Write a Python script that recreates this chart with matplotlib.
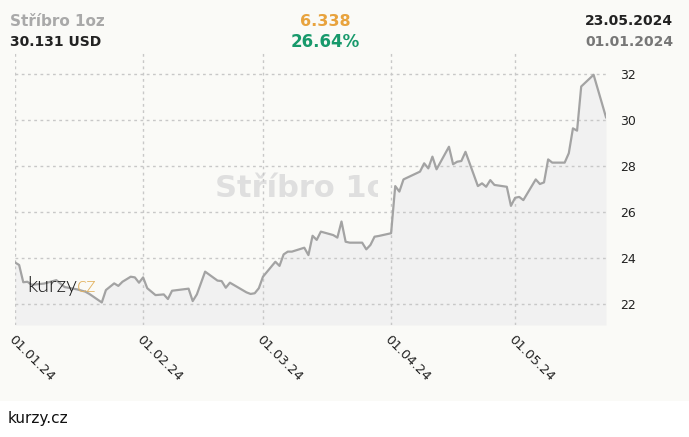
import numpy as np
import matplotlib
matplotlib.use("Agg")
import matplotlib.pyplot as plt
import matplotlib.dates as mdates
import matplotlib.patches as mpatches

# price of silver (USD / 1oz)
dates = ["2024-01-01", "2024-01-02", "2024-01-03", "2024-01-04", "2024-01-05",
         "2024-01-08", "2024-01-11", "2024-01-13", "2024-01-16", "2024-01-18",
         "2024-01-19", "2024-01-22", "2024-01-23", "2024-01-25", "2024-01-26",
         "2024-01-27", "2024-01-29", "2024-01-30", "2024-01-31", "2024-02-01",
         "2024-02-02", "2024-02-04", "2024-02-06", "2024-02-07", "2024-02-08",
         "2024-02-12", "2024-02-13", "2024-02-14", "2024-02-16", "2024-02-19",
         "2024-02-20", "2024-02-21", "2024-02-22", "2024-02-26", "2024-02-27",
         "2024-02-28", "2024-02-29", "2024-03-01", "2024-03-04", "2024-03-05",
         "2024-03-06", "2024-03-07", "2024-03-08", "2024-03-11", "2024-03-12",
         "2024-03-13", "2024-03-14", "2024-03-15", "2024-03-18", "2024-03-19",
         "2024-03-20", "2024-03-21", "2024-03-22", "2024-03-25", "2024-03-26",
         "2024-03-27", "2024-03-28", "2024-03-29", "2024-04-01", "2024-04-02",
         "2024-04-03", "2024-04-04", "2024-04-08", "2024-04-09", "2024-04-10",
         "2024-04-11", "2024-04-12", "2024-04-15", "2024-04-16", "2024-04-17",
         "2024-04-18", "2024-04-19", "2024-04-22", "2024-04-23", "2024-04-24",
         "2024-04-25", "2024-04-26", "2024-04-29", "2024-04-30", "2024-05-01",
         "2024-05-02", "2024-05-03", "2024-05-06", "2024-05-07", "2024-05-08",
         "2024-05-09", "2024-05-10", "2024-05-13", "2024-05-14", "2024-05-15",
         "2024-05-16", "2024-05-17", "2024-05-20", "2024-05-22", "2024-05-23"]
prices = [23.82, 23.71, 22.96, 22.98, 22.85,
          22.90, 23.05, 22.75, 22.65, 22.55,
          22.45, 22.08, 22.62, 22.91, 22.80,
          22.98, 23.20, 23.17, 22.94, 23.17,
          22.70, 22.40, 22.43, 22.23, 22.59,
          22.68, 22.14, 22.43, 23.42, 23.03,
          23.01, 22.72, 22.94, 22.52, 22.45,
          22.48, 22.70, 23.20, 23.85, 23.67,
          24.17, 24.29, 24.29, 24.46, 24.14,
          24.98, 24.80, 25.16, 25.01, 24.90,
          25.60, 24.72, 24.68, 24.68, 24.39,
          24.58, 24.94, 24.97, 25.09, 27.14,
          26.90, 27.43, 27.77, 28.13, 27.91,
          28.42, 27.87, 28.85, 28.09, 28.20,
          28.23, 28.63, 27.14, 27.26, 27.11,
          27.40, 27.19, 27.11, 26.28, 26.63,
          26.67, 26.53, 27.43, 27.23, 27.30,
          28.30, 28.16, 28.16, 28.57, 29.65,
          29.55, 31.47, 31.98, 30.75, 30.131]

month_ticks = ["2024-01-01", "2024-02-01", "2024-03-01", "2024-04-01", "2024-05-01"]
y_ticks = [22, 24, 26, 28, 30, 32]

x = np.array(dates, dtype="datetime64[D]")
y = np.array(prices)

W, H = 689, 437
bg = "#fafaf7"
fig = plt.figure(figsize=(W / 100, H / 100), dpi=100)
fig.patch.set_facecolor(bg)

# white footer strip
fig.patches.append(mpatches.Rectangle((0, 0), 1, 36 / H, transform=fig.transFigure,
                                      facecolor="white", edgecolor="none"))

ax = fig.add_axes([15 / W, 1 - 325 / H, 591 / W, 273 / H])
ax.set_facecolor(bg)
ymin, ymax = 21.1, 32.97
ax.set_xlim(x[0], x[-1])
ax.set_ylim(ymin, ymax)

# watermark, cut off on the right like in the original
ax.text(0.5, 0.5, "Stříbro 1oz", transform=ax.transAxes, ha="center", va="center",
        fontsize=22, fontweight="bold", color="#dfdfdf", zorder=0)
ax.add_patch(mpatches.Rectangle(((378 - 15) / 591, 0.35), 0.12, 0.3, transform=ax.transAxes,
                                facecolor=bg, edgecolor="none", zorder=0.5))

ax.fill_between(x, y, ymin, color="#f1f1f1", lw=0, zorder=1)
ax.plot(x, y, color="#a3a3a3", lw=1.6, zorder=3)

ax.set_xticks(np.array(month_ticks, dtype="datetime64[D]"))
ax.xaxis.set_major_formatter(mdates.DateFormatter("%d.%m.%y"))
ax.set_yticks(y_ticks)
ax.yaxis.tick_right()
ax.tick_params(length=0, labelsize=9, labelcolor="#222222")
ax.tick_params(axis="y", pad=10)
ax.tick_params(axis="x", pad=6)
for lab in ax.get_xticklabels():
    lab.set_rotation(-45)
    lab.set_ha("left")
    lab.set_va("top")
    lab.set_rotation_mode("anchor")
    lab.set_fontsize(9.5)

ax.grid(True, color="#c8c8c8", lw=1, linestyle=(0, (2, 2.5)), zorder=2)
ax.set_axisbelow(False)
for s in ax.spines.values():
    s.set_visible(False)

# kurzy.cz logo inside the plot
ax.text((27 - 15) / 591, (325 - 292) / 273, "kurzy", transform=ax.transAxes,
        fontsize=15.5, family="Lato", fontweight=300, color="#1a1a1a", zorder=5)
ax.text((77 - 15) / 591, (325 - 292) / 273, "cz", transform=ax.transAxes,
        fontsize=15.5, family="Lato", fontweight=300, color="#e2b25f", zorder=5)

# header
fig.text(10 / W, 1 - 21 / H, "Stříbro 1oz", fontsize=11, fontweight="bold",
         color="#a9a9a9", va="center")
fig.text(10 / W, 1 - 42 / H, "30.131 USD", fontsize=10, fontweight="bold",
         color="#222222", va="center")
fig.text(325 / W, 1 - 21 / H, "6.338", fontsize=11.5, fontweight="bold",
         color="#e8a33e", ha="center", va="center")
fig.text(325 / W, 1 - 42 / H, "26.64%", fontsize=12, fontweight="bold",
         color="#17996b", ha="center", va="center")
fig.text(673 / W, 1 - 21 / H, "23.05.2024", fontsize=10, fontweight="bold",
         color="#222222", ha="right", va="center")
fig.text(673 / W, 1 - 42 / H, "01.01.2024", fontsize=10, fontweight="bold",
         color="#777777", ha="right", va="center")

# footer
fig.text(8 / W, 1 - 419 / H, "kurzy.cz", fontsize=11, color="#111111", va="center")

fig.savefig("out.png", dpi=100, facecolor=fig.get_facecolor())
